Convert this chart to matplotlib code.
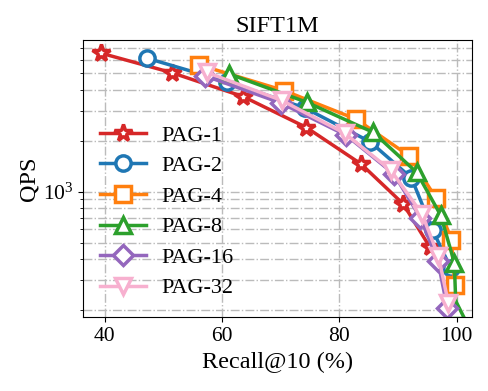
import numpy as np
import matplotlib.pyplot as plt

plt.rcParams['font.family'] = 'Liberation Serif'
plt.rcParams['mathtext.fontset'] = 'stix'

# recall@10 (%) and QPS
rec_1 = [39.4, 51.4, 63.6, 74.4, 83.7, 90.9, 95.4]
qps_1 = [6560, 5040, 3640, 2390, 1457, 846, 473]

rec_2 = [47.2, 60.8, 74.1, 85.2, 92.3, 95.9, 99.0]
qps_2 = [6130, 4460, 3120, 1973, 1205, 594, 354]

rec_4 = [56.1, 70.6, 82.9, 91.9, 96.5, 99.1, 99.7]
qps_4 = [5600, 3945, 2675, 1626, 914, 518, 281]

rec_8 = [61.2, 74.5, 85.8, 93.2, 97.3, 99.6, 99.9]
qps_8 = [4955, 3363, 2237, 1298, 724, 382, 200]

rec_16 = [57.1, 70.0, 81.2, 89.3, 93.8, 96.8, 98.4]
qps_16 = [4820, 3339, 2148, 1272, 704, 390, 207]

rec_32 = [57.4, 70.2, 80.9, 88.8, 94.1, 96.9, 98.6]
qps_32 = [5054, 3452, 2213, 1334, 738, 417, 219]

series = [
    ("PAG-1", rec_1, qps_1, "tab:red", "*"),
    ("PAG-2", rec_2, qps_2, "tab:blue", "o"),
    ("PAG-4", rec_4, qps_4, "tab:orange", "s"),
    ("PAG-8", rec_8, qps_8, "tab:green", "^"),
    ("PAG-16", rec_16, qps_16, "tab:purple", "D"),
    ("PAG-32", rec_32, qps_32, "#f7b0cf", "v"),
]

fig = plt.figure(figsize=(4.88, 3.91), dpi=100)
ax = fig.add_axes([0.170, 0.189, 0.797, 0.709])

for name, x, y, c, m in series:
    ms = 13 if m == "*" else 11
    if m == "D":
        ms = 10
    ax.plot(x, y, color=c, marker=m, markersize=ms, markerfacecolor="white",
            markeredgewidth=2.5, linewidth=2.5, label=name)

ax.set_yscale("log")
ax.set_xlim(36.3, 102.6)
ax.set_ylim(182, 7860)
ax.set_xticks([40, 60, 80, 100])
ax.grid(True, which="major", linestyle="-.", color="#bbbbbb", linewidth=1)
ax.grid(True, which="minor", axis="y", linestyle="-.", color="#bbbbbb", linewidth=1)
ax.set_axisbelow(True)

ax.tick_params(labelsize=15.5)
ax.set_xlabel("Recall@10 (%)", fontsize=17.5)
ax.set_ylabel("QPS", fontsize=17.5, labelpad=2)
ax.set_title("SIFT1M", fontsize=17.5)

ax.legend(loc="center left", bbox_to_anchor=(0.02, 0.38), borderaxespad=0,
          frameon=False, fontsize=16, handlelength=2.1, labelspacing=0.45,
          handletextpad=0.7)

fig.savefig("out.png", dpi=100)
